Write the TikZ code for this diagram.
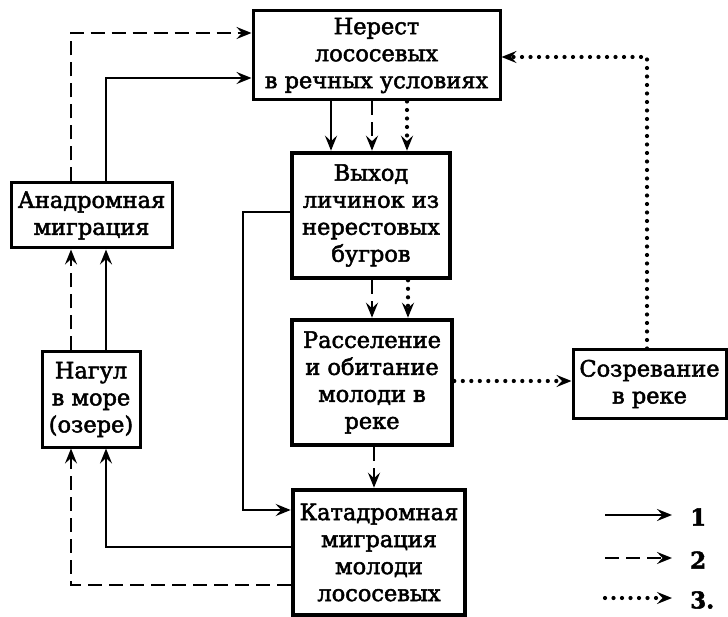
\documentclass[tikz,border=0pt]{standalone}
\usepackage{fontspec}
\setmainfont{DejaVu Serif}[FakeBold=2.2]
\usetikzlibrary{arrows.meta}
\begin{document}
\begin{tikzpicture}[x=1pt,y=-1pt,
 box/.style={draw, line width=3pt, align=center, inner sep=0pt, font=\fontsize{22.5}{27}\selectfont},
 thickbox/.style={box, line width=4.6pt},
 arr/.style={line width=2.8pt, -{Stealth[length=15pt,width=12pt,inset=5.5pt]}},
 dsh/.style={dash pattern=on 14pt off 7pt},
 dts/.style={line width=4.2pt, line cap=round, dash pattern=on 0pt off 8.5pt},
 lbl/.style={anchor=west, inner sep=0pt, font=\fontsize{23}{26}\selectfont\bfseries},
]
\useasboundingbox (0,0) rectangle (728,617);

\node[box, minimum width=247pt, minimum height=89pt] (nerest) at (376.5,55.5) {Нерест\\лососевых\\в речных условиях};
\node[thickbox, minimum width=158pt, minimum height=125pt] (vykhod) at (371,215.5) {Выход\\личинок из\\нерестовых\\бугров};
\node[thickbox, minimum width=160pt, minimum height=125pt] (rassel) at (372,382.5) {Расселение\\и обитание\\молоди в\\реке};
\node[thickbox, minimum width=172pt, minimum height=125pt] (katad) at (379,552.5) {Катадромная\\миграция\\молоди\\лососевых};
\node[box, minimum width=161pt, minimum height=65pt] (anad) at (91.5,215.5) {Анадромная\\миграция};
\node[box, minimum width=98pt, minimum height=95pt] (nagul) at (91,399.5) {Нагул\\в море\\(озере)};
\node[box, minimum width=153pt, minimum height=68pt] (sozr) at (649.5,384) {Созревание\\в реке};

% left loop
\draw[arr] (katad.west |- 0,547) -| (106,0 |- nagul.south);
\draw[arr,dsh] (katad.west |- 0,585) -| (71,0 |- nagul.south);
\draw[arr] (106,0 |- nagul.north) -- (106,0 |- anad.south);
\draw[arr,dsh] (71,0 |- nagul.north) -- (71,0 |- anad.south);
\draw[arr] (106,0 |- anad.north) |- (nerest.west |- 0,78);
\draw[arr,dsh] (71,0 |- anad.north) |- (nerest.west |- 0,33);

% central column
\draw[arr] (331,0 |- nerest.south) -- (331,0 |- vykhod.north);
\draw[arr,dsh] (372,0 |- nerest.south) -- (372,0 |- vykhod.north);
\draw[arr,dts] (407,0 |- nerest.south) -- (407,0 |- vykhod.north);
\draw[arr,dsh] (372,0 |- vykhod.south) -- (372,0 |- rassel.north);
\draw[arr,dts] (408,0 |- vykhod.south) -- (408,0 |- rassel.north);
\draw[arr] (vykhod.west |- 0,212) -- (243,212) |- (katad.west |- 0,510);
\draw[arr,dsh] (374,0 |- rassel.south) -- (374,0 |- katad.north);

% right loop
\draw[arr,dts] (rassel.east |- 0,381) -- (sozr.west |- 0,381);
\draw[arr,dts] (647,0 |- sozr.north) |- (nerest.east |- 0,57);

% legend
\coordinate (l1a) at (605,515); \coordinate (l1b) at (672,515);
\coordinate (l2a) at (605,558); \coordinate (l2b) at (672,558);
\coordinate (l3a) at (605,598); \coordinate (l3b) at (672,598);
\draw[arr] (l1a) -- (l1b);
\draw[arr,dsh] (l2a) -- (l2b);
\draw[arr,dts] (l3a) -- (l3b);
\node[lbl] (t1) at (690,517) {1};
\node[lbl] (t2) at (690,560) {2};
\node[lbl] (t3) at (690,600) {3.};
\end{tikzpicture}
\end{document}
